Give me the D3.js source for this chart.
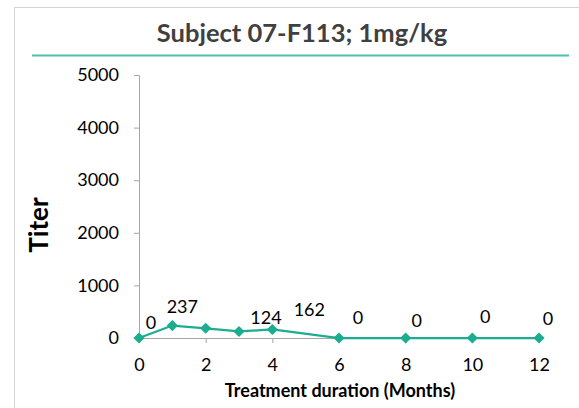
<!DOCTYPE html>
<html>
<head>
<meta charset="utf-8">
<script src="https://cdn.jsdelivr.net/npm/d3@7"></script>
<style>
  html, body { margin: 0; padding: 0; background: #fff; }
  svg { display: block; font-family: Lato, "Open Sans", sans-serif; }
</style>
</head>
<body>
<svg id="chart" width="579" height="408"></svg>
<script>
// Anti-drug antibody titer over the treatment period
const months = [0, 1, 2, 3, 4, 6, 8, 10, 12];
const titers = [0, 237, 185, 124, 162, 0, 0, 0, 0];
// Which points carry a value label, and where that label sits relative to its point
const labelIndex = [0, 1, 3, 4, 5, 6, 7, 8];
const labelOffsets = [[12, -15], [10, -19], [27, -14], [37, -20], [19, -20], [11, -17], [13, -21], [9, -19]];
const xTicks = [0, 2, 4, 6, 8, 10, 12];
const yTicks = [0, 1000, 2000, 3000, 4000, 5000];

const titleText = "Subject 07-F113; 1mg/kg";
const xTitle = "Treatment duration (Months)";
const yTitle = "Titer";

const teal = "#1bad8e";
const svg = d3.select("#chart");

// Chart frame
svg.append("rect")
  .attr("x", 14.5).attr("y", 7.5)
  .attr("width", 600).attr("height", 450)
  .attr("fill", "#fff").attr("stroke", "#d4d4d4").attr("stroke-width", 1);

// Title with underline rule
svg.append("text")
  .attr("x", 302).attr("y", 42)
  .attr("text-anchor", "middle")
  .attr("font-size", 25.5).attr("font-weight", 700)
  .attr("fill", "#404040")
  .text(titleText);
svg.append("line")
  .attr("x1", 32).attr("x2", 569)
  .attr("y1", 55.5).attr("y2", 55.5)
  .attr("stroke", "#4fc0aa").attr("stroke-width", 2);

const x = d3.scaleLinear().domain([0, 12]).range([139, 539]);
const y = d3.scaleLinear().domain([0, 5000]).range([338, 75]);

// Y axis
const yAxis = svg.append("g")
  .attr("transform", `translate(${x(0)},0)`)
  .call(d3.axisLeft(y).tickValues(yTicks).tickSize(5).tickPadding(15).tickFormat(d3.format("d")));
yAxis.select(".domain").attr("stroke", "#a6a6a6");
yAxis.selectAll(".tick line").attr("stroke", "#a6a6a6");
yAxis.selectAll(".tick text")
  .attr("font-size", 18).attr("fill", "#000")
  .attr("font-family", "Lato, sans-serif");

// X axis
const xAxis = svg.append("g")
  .attr("transform", `translate(0,${y(0)})`)
  .call(d3.axisBottom(x).tickValues(xTicks).tickSize(5).tickPadding(15).tickFormat(d3.format("d")));
xAxis.select(".domain").attr("stroke", "#a6a6a6");
xAxis.selectAll(".tick line").attr("stroke", "#a6a6a6");
xAxis.selectAll(".tick text")
  .attr("font-size", 18).attr("fill", "#000")
  .attr("font-family", "Lato, sans-serif");

// Axis titles
svg.append("text")
  .attr("x", 340).attr("y", 397)
  .attr("text-anchor", "middle")
  .attr("font-size", 18).attr("font-weight", 700)
  .attr("fill", "#000")
  .text(xTitle);
svg.append("text")
  .attr("transform", "translate(48,225) rotate(-90)")
  .attr("text-anchor", "middle")
  .attr("font-size", 26).attr("font-weight", 700)
  .attr("fill", "#000")
  .text(yTitle);

// Series line
const pts = months.map((m, i) => ({ m, v: titers[i] }));
svg.append("path")
  .datum(pts)
  .attr("fill", "none")
  .attr("stroke", teal)
  .attr("stroke-width", 2.25)
  .attr("d", d3.line().x(d => x(d.m)).y(d => y(d.v)));

// Diamond markers
const r = 5.6;
svg.append("g").selectAll("path")
  .data(pts)
  .join("path")
  .attr("transform", d => `translate(${x(d.m)},${y(d.v)})`)
  .attr("d", `M0,${-r}L${r},0L0,${r}L${-r},0Z`)
  .attr("fill", teal);

// Value labels
svg.append("g").selectAll("text")
  .data(labelIndex)
  .join("text")
  .attr("x", (idx, k) => x(months[idx]) + labelOffsets[k][0])
  .attr("y", (idx, k) => y(titers[idx]) + labelOffsets[k][1])
  .attr("dy", "0.36em")
  .attr("text-anchor", "middle")
  .attr("font-size", 18)
  .attr("fill", "#000")
  .text(idx => titers[idx]);
</script>
</body>
</html>
